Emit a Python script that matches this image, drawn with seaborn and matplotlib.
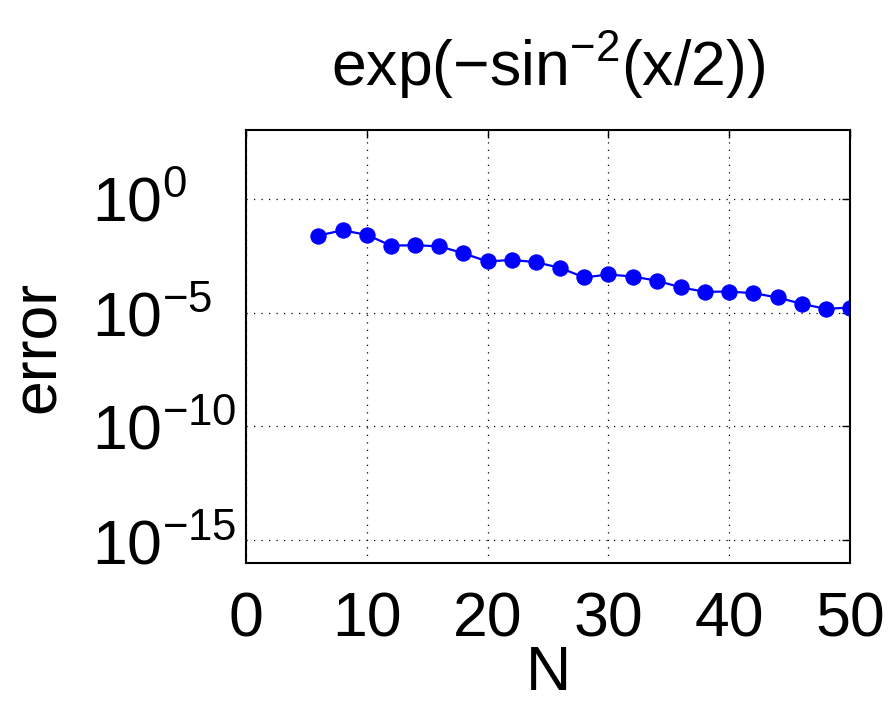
import numpy as np
import pandas as pd
import matplotlib
matplotlib.use("Agg")
import matplotlib.pyplot as plt
import seaborn as sns
from matplotlib.ticker import FixedLocator, NullLocator, FuncFormatter

N = [6, 8, 10, 12, 14, 16, 18, 20, 22, 24, 26, 28, 30, 32, 34, 36, 38, 40, 42, 44, 46, 48, 50]
log_err = [-1.62, -1.39, -1.59, -2.06, -2.05, -2.09, -2.40, -2.76, -2.69, -2.79, -3.04, -3.46,
           -3.33, -3.42, -3.60, -3.90, -4.09, -4.08, -4.15, -4.34, -4.62, -4.84, -4.78]
err = [10 ** v for v in log_err]
x_ticks = [0, 10, 20, 30, 40, 50]
y_ticks = [1e-15, 1e-10, 1e-5, 1e0]

sns.set_style("white")
plt.rcParams["font.family"] = ["Liberation Sans", "DejaVu Sans"]
plt.rcParams["mathtext.fontset"] = "custom"
plt.rcParams["mathtext.rm"] = "Liberation Sans"
plt.rcParams["mathtext.it"] = "Liberation Sans"
plt.rcParams["mathtext.sf"] = "Liberation Sans"
plt.rcParams["text.color"] = "black"
plt.rcParams["axes.labelcolor"] = "black"

FS = 45

df = pd.DataFrame({"N": N, "error": err})

fig = plt.figure(figsize=(8.94, 7.04), dpi=100)
ax = fig.add_axes([0.275, 0.200, 0.676, 0.615])
sns.lineplot(data=df, x="N", y="error", ax=ax, color=(0, 0, 1), marker="o",
             markersize=11, markeredgecolor=(0, 0, 1), linewidth=1.6)
ax.set_yscale("log")
ax.set_xlim(0, 50)
ax.set_ylim(1e-16, 1e3)
ax.xaxis.set_major_locator(FixedLocator(x_ticks))
ax.yaxis.set_major_locator(FixedLocator(y_ticks))
ax.yaxis.set_minor_locator(NullLocator())
ax.xaxis.set_minor_locator(NullLocator())
ax.yaxis.set_major_formatter(FuncFormatter(lambda v, p: r"$10^{%d}$" % round(np.log10(v))))
ax.grid(True, which="major", linestyle=(0, (1, 5)), color="black", linewidth=0.9)
ax.tick_params(direction="in", length=6, width=1, top=True, right=True,
               labelsize=FS, colors="black")
ax.tick_params(axis="x", pad=20)
ax.tick_params(axis="y", pad=111)
for lab in ax.get_yticklabels():
    lab.set_horizontalalignment("left")
for s in ax.spines.values():
    s.set_color("black")
    s.set_linewidth(1.5)
ax.set_xlabel("N", fontsize=FS, labelpad=-4)
ax.set_ylabel("error", fontsize=FS, labelpad=17)
ax.set_title(r"exp($-$sin$^{-2}$(x/2))", fontsize=FS, pad=32, color="black")

fig.savefig("out.png", dpi=100)
